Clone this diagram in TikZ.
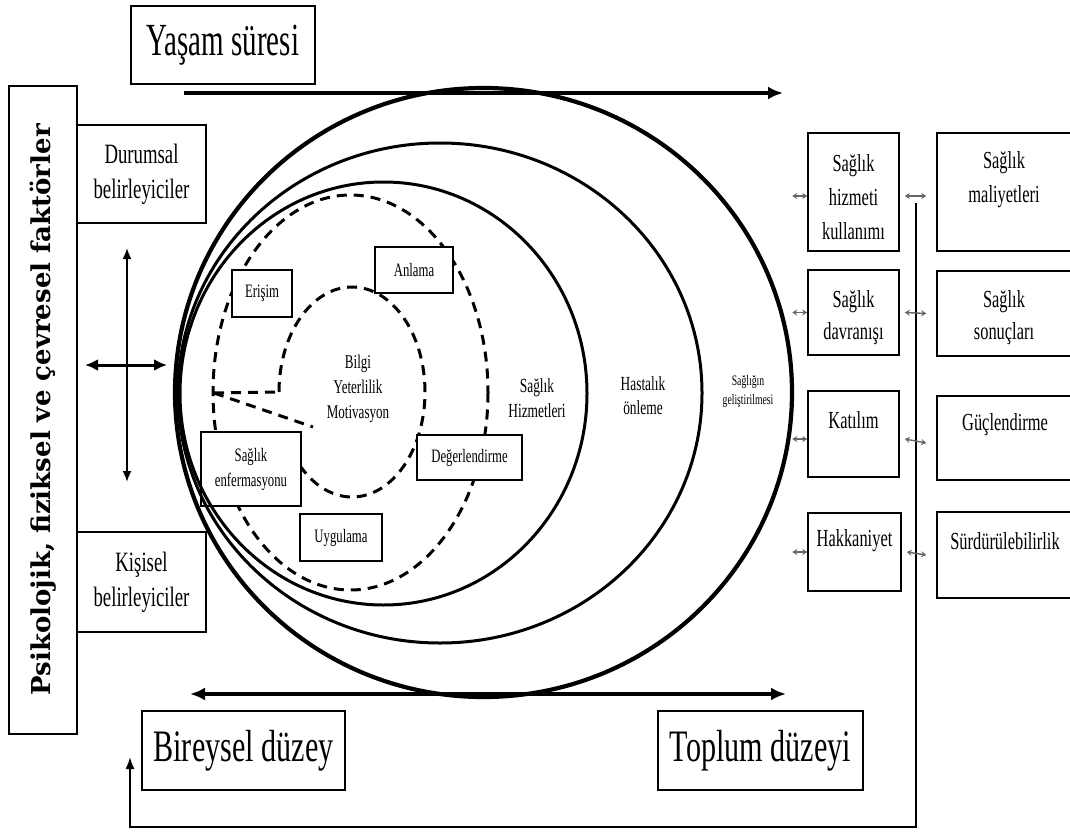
\documentclass[tikz,border=0pt]{standalone}
\usepackage{fontspec}
\setmainfont{Liberation Serif}
\newfontfamily\tn[FakeStretch=0.67]{Liberation Serif}
\newfontfamily\tnb[FakeStretch=0.63]{Liberation Serif}
\newfontfamily\psifont{DejaVu Serif}
\usetikzlibrary{arrows.meta}
\newcommand\myfs[2]{\fontsize{#1}{#2}\selectfont}
\tikzset{
  box/.style={draw, line width=1.5pt, fill=white, inner sep=0pt, align=center},
  txt/.style={inner sep=0pt, align=center},
  bigarrow/.style={line width=4pt, -{Latex[length=15pt,width=13pt]}},
  bigdouble/.style={line width=4pt, {Latex[length=15pt,width=13pt]}-{Latex[length=15pt,width=13pt]}},
  dsh/.style={line width=3pt, dash pattern=on 10pt off 7pt},
  ring/.style={line width=3pt},
  sarrow/.style={draw=black!60, line width=1.4pt, {Stealth[length=5pt,width=6pt]}-{Stealth[length=5pt,width=6pt]}},
}
\begin{document}
\begin{tikzpicture}[x=1pt,y=-1pt]
\useasboundingbox (0,0) rectangle (1070,832);
\fill[white] (0,0) rectangle (1070,832);

% big arrows top and bottom
\coordinate (ts) at (184,93);
\coordinate (te) at (783,93);
\coordinate (bs) at (190,694);
\coordinate (be) at (786,694);
\draw[bigarrow] (ts) -- (te);
\draw[bigdouble] (bs) -- (be);

% dashed inner circles
\draw[dsh] (350.5,392.5) ellipse [x radius=137.5, y radius=197.5];
\coordinate (pa) at (214,393);
\coordinate (pb) at (279,392);
\coordinate (pc) at (313,427);
\draw[dsh] (pb) arc [start angle=180, end angle=510, x radius=73, y radius=105];
\draw[dsh] (pa) -- (pb);
\draw[dsh] (pa) -- (pc);

% boxes on the dashed circle
\node[box, minimum width=60, minimum height=47, font=\tn\myfs{19}{24}] (eri) at (262,293.5) {Erişim};
\node[box, minimum width=78, minimum height=46, font=\tn\myfs{19}{24}] (anl) at (414,270) {Anlama};
\node[box, minimum width=105, minimum height=45, font=\tn\myfs{19}{24}] (deg) at (469.5,457.5) {Değerlendirme};
\node[box, minimum width=100, minimum height=74, font=\tn\myfs{19}{25}] (enf) at (251,469) {Sağlık\\enfermasyonu};
\node[box, minimum width=82, minimum height=47, font=\tn\myfs{19}{24}] (uyg) at (341,537.5) {Uygulama};

% solid rings
\draw[line width=4.2pt] (483.5,392.5) ellipse [x radius=308.5, y radius=304.5];
\draw[ring] (440,393) ellipse [x radius=262, y radius=250];
\draw[ring] (383.5,393.5) ellipse [x radius=203.5, y radius=211.5];

% ring labels
\node[txt, font=\tn\myfs{19.5}{25}] (core) at (358,389) {Bilgi\\Yeterlilik\\Motivasyon};
\node[txt, font=\tn\myfs{20}{25}] (shiz) at (537,398) {Sağlık\\Hizmetleri};
\node[txt, font=\tn\myfs{20}{24}] (hast) at (643,396) {Hastalık\\önleme};
\node[txt, font=\tn\myfs{14.5}{19}] (sgel) at (748,392) {Sağlığın\\geliştirilmesi};

% top box
\node[box, minimum width=184, minimum height=78, font=\tnb\myfs{46}{50}] (yas) at (223,45) {Yaşam süresi};

% left column
\node[box, rotate=90, minimum width=648, minimum height=68, font=\psifont\bfseries\myfs{26}{26}] (psi) at (43,410) {Psikolojik, fiziksel ve çevresel faktörler};
\node[box, minimum width=129, minimum height=98, font=\tn\myfs{28}{35}] (dur) at (141.5,174) {Durumsal\\belirleyiciler};
\node[box, minimum width=129, minimum height=100, font=\tn\myfs{28}{35}] (kis) at (141.5,582) {Kişisel\\belirleyiciler};

\coordinate (vt) at (127,248);
\coordinate (vb) at (127,482);
\coordinate (hl) at (85,365);
\coordinate (hr) at (167,365);
\draw[line width=1.8pt, {Latex[length=11pt,width=9pt]}-{Latex[length=11pt,width=9pt]}] (vt) -- (vb);
\draw[line width=3pt, {Latex[length=13pt,width=12pt]}-{Latex[length=13pt,width=12pt]}] (hl) -- (hr);

% bottom boxes
\node[box, minimum width=203, minimum height=79, font=\tn\myfs{45}{48}] (bir) at (243.5,750.5) {Bireysel düzey};
\node[box, minimum width=205, minimum height=79, font=\tn\myfs{45}{48}] (top) at (760.5,750.5) {Toplum düzeyi};

% feedback line
\coordinate (fbtop) at (916,203);
\coordinate (fbc) at (130,827);
\coordinate (fbend) at (130,757);
\draw[line width=1.6pt, -{Latex[length=12pt,width=9pt]}] (fbtop) |- (fbc) -- (fbend);

% right boxes
\node[box, minimum width=91, minimum height=118] (r1a) at (853.5,192) {};
\node[box, minimum width=91, minimum height=85] (r2a) at (853.5,312.5) {};
\node[box, minimum width=91, minimum height=86] (r3a) at (853.5,434) {};
\node[box, minimum width=93, minimum height=78] (r4a) at (854.5,552) {};
\node[box, minimum width=140, minimum height=118] (r1b) at (1007,192) {};
\node[box, minimum width=140, minimum height=85] (r2b) at (1007,313.5) {};
\node[box, minimum width=140, minimum height=84] (r3b) at (1007,438) {};
\node[box, minimum width=140, minimum height=86] (r4b) at (1007,555) {};

\node[txt, font=\tn\myfs{24.5}{34}] (t1a) at (853.5,197) {Sağlık\\hizmeti\\kullanımı};
\node[txt, font=\tn\myfs{24.5}{32}] (t2a) at (853.5,318) {Sağlık\\davranışı};
\node[txt, font=\tn\myfs{24.5}{32}] (t3a) at (853.5,420) {Katılım};
\node[txt, font=\tn\myfs{24.5}{32}] (t4a) at (854.5,541) {Hakkaniyet};
\node[txt, font=\tn\myfs{24.5}{34}] (t1b) at (1004,180) {Sağlık\\maliyetleri};
\node[txt, font=\tn\myfs{24.5}{32}] (t2b) at (1004,318) {Sağlık\\sonuçları};
\node[txt, font=\tn\myfs{24.5}{32}] (t3b) at (1005,425) {Güçlendirme};
\node[txt, font=\tn\myfs{24.5}{32}] (t4b) at (1005,541) {Sürdürülebilirlik};

% small double arrows
\foreach \b/\c/\dy in {r1a/r1b/4, r2a/r2b/0, r3a/r3b/5, r4a/r4b/0}{
  \draw[sarrow] ([xshift=-15pt,yshift=-\dy pt]\b.west) -- ([yshift=-\dy pt]\b.west);
  \draw[sarrow] ([xshift=5pt,yshift=-\dy pt]\b.east) -- ([xshift=-10pt,yshift=-\dy pt]\c.west);
}
\end{tikzpicture}
\end{document}
